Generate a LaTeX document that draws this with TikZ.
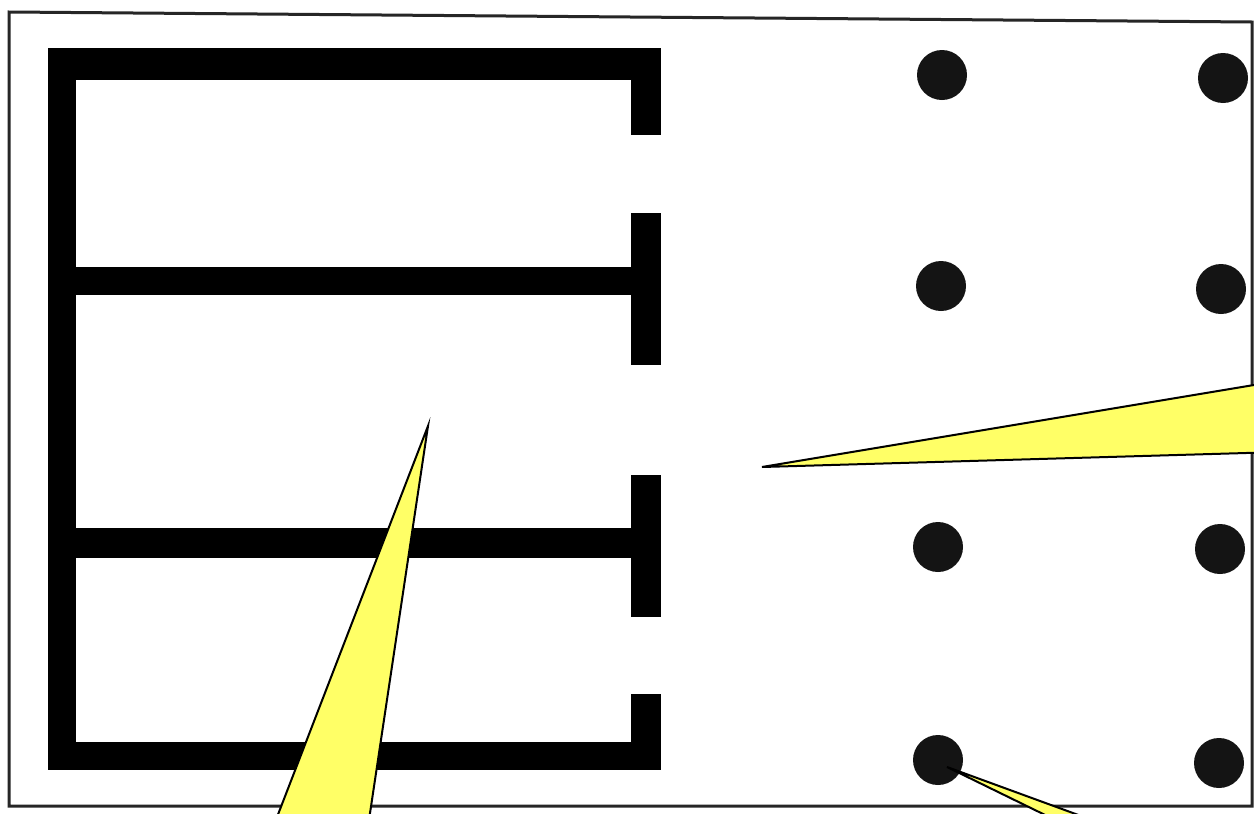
\documentclass[tikz,border=0pt]{standalone}
\usepackage{tikz}
\usetikzlibrary{positioning}
\definecolor{calloutyellow}{RGB}{255,255,102}

\begin{document}
\begin{tikzpicture}[
    x=0.5pt, y=-0.5pt,
    frame/.style={draw=black!85, line width=1.5pt},
    wall/.style={fill=black},
    column/.style={circle, fill=black!92, inner sep=0pt, minimum size=25pt},
    callout/.style={fill=calloutyellow, draw=black, line width=1pt, line join=miter}
]

% Page
\useasboundingbox (0,0) rectangle (1254,814);
\fill[white] (0,0) rectangle (1254,814);
\clip (0,0) rectangle (1254,814);

% Outer frame
\draw[frame] (9,12) -- (1252,22) -- (1252,806) -- (9,806) -- cycle;

% Walls
\fill[wall] (48,48) rectangle (76,768);
\fill[wall] (48,48) rectangle (661,80);
\fill[wall] (631,48) rectangle (661,135);
\fill[wall] (76,267) rectangle (631,295);
\fill[wall] (631,213) rectangle (661,365);
\fill[wall] (76,528) rectangle (631,558);
\fill[wall] (631,475) rectangle (661,617);
\fill[wall] (48,742) rectangle (661,770);
\fill[wall] (631,694) rectangle (661,770);

% Columns
\node[column] (col11) at (942,75) {};
\node[column] (col12) at (1223,78) {};
\node[column] (col21) at (941,286) {};
\node[column] (col22) at (1221,289) {};
\node[column] (col31) at (938,547) {};
\node[column] (col32) at (1220,549) {};
\node[column] (col41) at (938,760) {};
\node[column] (col42) at (1219,763) {};

% Callouts
\coordinate (tipspine) at (428,426);
\coordinate (tipbay) at (762,467);
\coordinate (tipcol) at (947,767);
\draw[callout] (245,900) -- (tipspine) -- (357,900);
\draw[callout] (1350,369) -- (tipbay) -- (1350,450);
\draw[callout] (1219,900) -- (tipcol) -- (1311,900);

\end{tikzpicture}
\end{document}
